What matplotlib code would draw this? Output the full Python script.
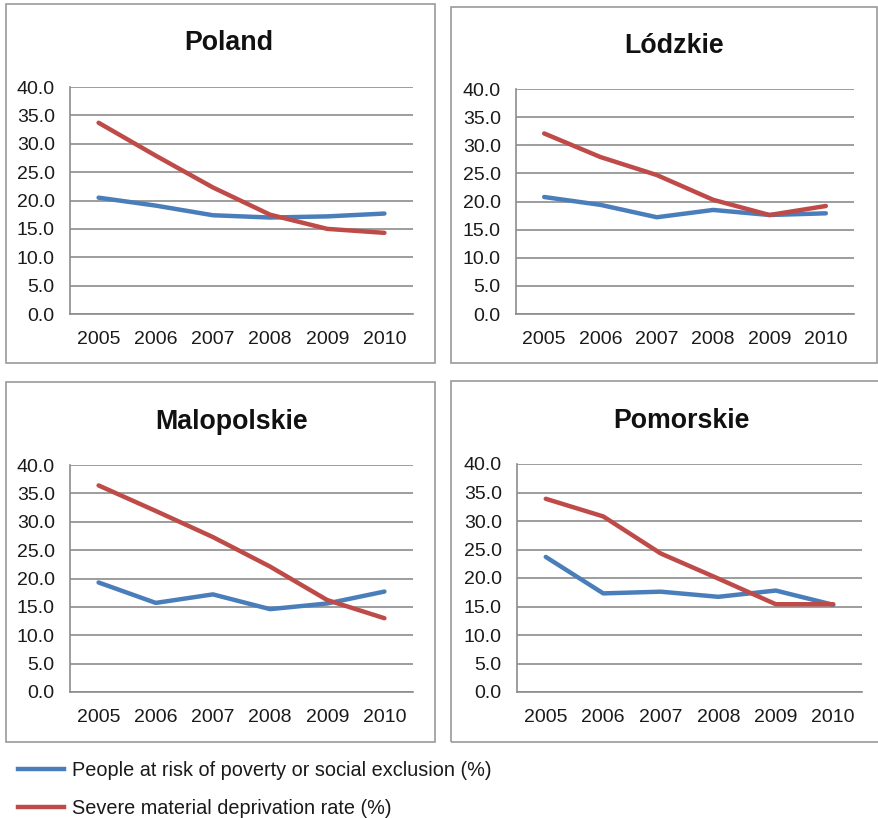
import matplotlib.pyplot as plt
from matplotlib.patches import Rectangle
from matplotlib.lines import Line2D

plt.rcParams['font.family'] = ['Liberation Sans', 'DejaVu Sans']

years = ['2005', '2006', '2007', '2008', '2009', '2010']

regions = ['Poland', 'Lódzkie', 'Malopolskie', 'Pomorskie']

# people at risk of poverty or social exclusion (%)
risk_poland = [20.5, 19.1, 17.4, 17.0, 17.2, 17.7]
risk_lodzkie = [20.8, 19.4, 17.2, 18.5, 17.6, 17.9]
risk_malopolskie = [19.3, 15.7, 17.2, 14.6, 15.6, 17.7]
risk_pomorskie = [23.7, 17.3, 17.6, 16.7, 17.8, 15.3]

# severe material deprivation rate (%)
depr_poland = [33.7, 27.9, 22.3, 17.5, 15.0, 14.3]
depr_lodzkie = [32.1, 27.9, 24.7, 20.3, 17.6, 19.2]
depr_malopolskie = [36.4, 31.9, 27.3, 22.1, 16.2, 13.0]
depr_pomorskie = [33.9, 30.8, 24.3, 19.9, 15.4, 15.4]

risk = [risk_poland, risk_lodzkie, risk_malopolskie, risk_pomorskie]
depr = [depr_poland, depr_lodzkie, depr_malopolskie, depr_pomorskie]

blue = '#4a7ebb'
red = '#be4b48'
grid_col = '#8c8c8c'

W, H = 879, 818
fig = plt.figure(figsize=(W / 100, H / 100), dpi=100)


def fx(x):
    return x / W


def fy(y):
    return 1 - y / H


# pixel layout: panel box, plot area, title position
panels = [
    dict(box=(6, 4, 435, 363), ax=(70, 87, 413, 314), title=(229, 43)),
    dict(box=(451, 7, 877, 363), ax=(516, 89, 854, 314), title=(674, 46)),
    dict(box=(6, 382, 435, 742), ax=(70, 465, 413, 692), title=(232, 422)),
    dict(box=(451, 381, 884, 742), ax=(517, 464, 862, 692), title=(681, 421)),
]

for i, p in enumerate(panels):
    x0, y0, x1, y1 = p['box']
    fig.patches.append(Rectangle((fx(x0), fy(y1)), fx(x1 - x0), (y1 - y0) / H,
                                 transform=fig.transFigure, fill=False,
                                 edgecolor='#9a9a9a', linewidth=1.2))
    ax0, ay0, ax1, ay1 = p['ax']
    ax = fig.add_axes([fx(ax0), fy(ay1), fx(ax1 - ax0), (ay1 - ay0) / H])
    xs = range(len(years))
    ax.plot(xs, risk[i], color=blue, linewidth=3.2, solid_capstyle='round')
    ax.plot(xs, depr[i], color=red, linewidth=3.2, solid_capstyle='round')
    ax.set_xlim(-0.5, len(years) - 0.5)
    ax.set_ylim(0, 40)
    ax.set_yticks(range(0, 41, 5))
    ax.set_yticklabels(['%.1f' % v for v in range(0, 41, 5)])
    ax.set_xticks(list(xs))
    ax.set_xticklabels(years)
    ax.tick_params(length=0, labelsize=14, colors='#1a1a1a')
    ax.tick_params(axis='y', pad=11)
    ax.tick_params(axis='x', pad=12)
    ax.grid(axis='y', color=grid_col, linewidth=1.2)
    ax.set_axisbelow(True)
    for side in ['top', 'right']:
        ax.spines[side].set_visible(False)
    for side in ['left', 'bottom']:
        ax.spines[side].set_color(grid_col)
        ax.spines[side].set_linewidth(1.2)
    tx, ty = p['title']
    fig.text(fx(tx), fy(ty), regions[i], ha='center', va='center',
             fontsize=19.3, fontweight='bold', color='#111111')

handles = [Line2D([], [], color=blue, linewidth=3.2),
           Line2D([], [], color=red, linewidth=3.2)]
labels = ['People at risk of poverty or social exclusion (%)',
          'Severe material deprivation rate (%)']
fig.legend(handles, labels, loc='upper left', bbox_to_anchor=(fx(0), fy(743)),
           frameon=False, fontsize=14.3, handlelength=2.3, handletextpad=0.45,
           labelspacing=0.95, labelcolor='#1a1a1a')

fig.savefig('out.png', dpi=100)
